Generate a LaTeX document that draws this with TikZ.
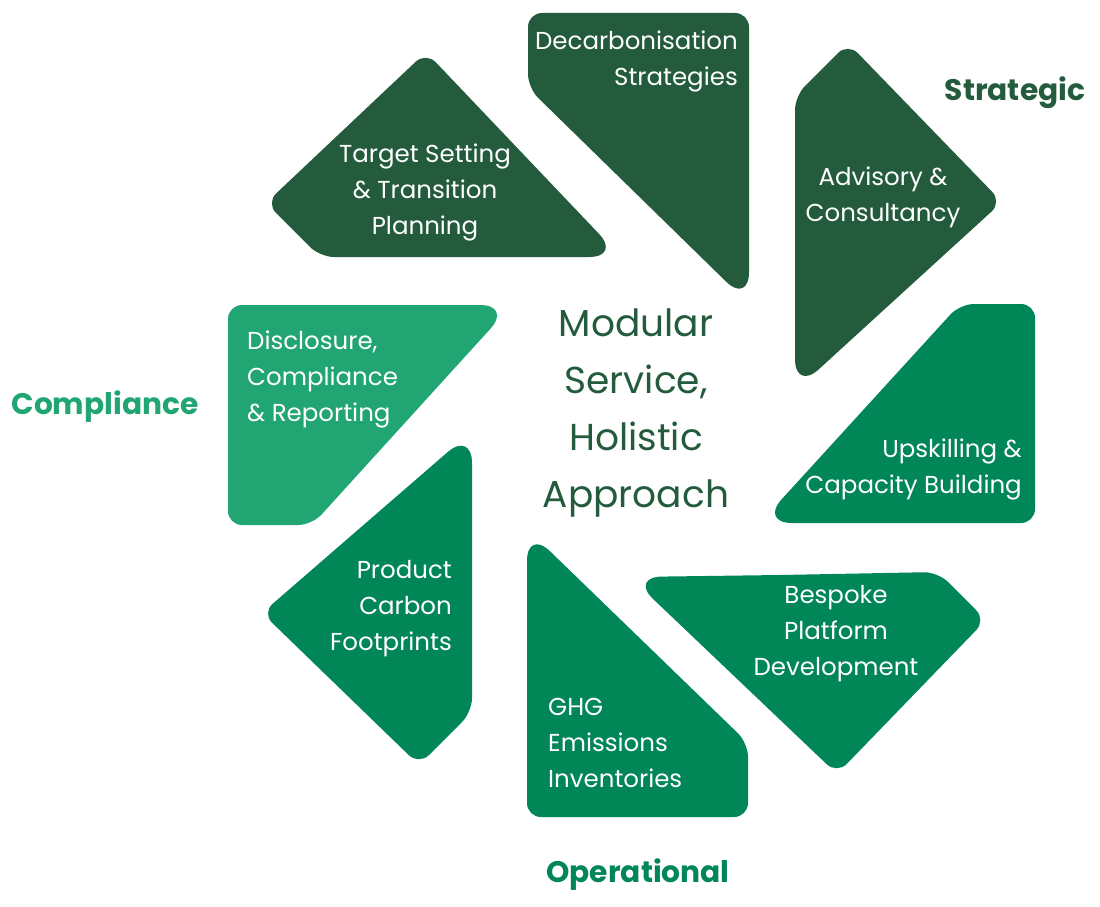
\documentclass[tikz,border=0pt]{standalone}
\usepackage{fontspec}
\setmainfont{Poppins}
\definecolor{darkgreen}{HTML}{235B3C}
\definecolor{midgreen}{HTML}{008657}
\definecolor{lightgreen}{HTML}{21A673}
\newcommand{\piecefont}{\fontsize{24.5}{36}\selectfont}
\tikzset{
    soft/.style={rounded corners=14pt},
    tip/.style={rounded corners=32pt},
    piecetext/.style={text=white, font=\piecefont, inner sep=0pt},
    grouplabel/.style={font=\fontsize{29.7}{32}\selectfont\bfseries, inner sep=0pt}
}
\begin{document}
\begin{tikzpicture}[x=1pt, y=-1pt]
            \useasboundingbox (0,0) rectangle (1100,907);

            % strategic pieces
            \fill[darkgreen] (470,257) [soft] -- (320,257) -- (266,203) -- (426,52) [tip] -- (621,257) [soft] -- cycle;
            \fill[darkgreen] (638,13) [soft] -- (749,13) [tip] -- (749,304) [soft] -- (528,88) -- (528,13) -- cycle;
            \fill[darkgreen] (795,240) [soft] -- (795,96) -- (848,43) -- (1002,202) [tip] -- (795,391) [soft] -- cycle;

            % operational pieces
            \fill[midgreen] (900,523) [tip] -- (760,523) [soft] -- (960,304) -- (1035,304) -- (1035,523) -- cycle;
            \fill[midgreen] (780,575) [soft] -- (938,572) -- (986,620) -- (837,774) [tip] -- (630,577) [soft] -- cycle;
            \fill[midgreen] (527,670) [tip] -- (527,529) [soft] -- (748,743) -- (748,817) -- (527,817) -- cycle;
            \fill[midgreen] (472,570) [soft] -- (472,712) -- (419,765) -- (262,613) [tip] -- (472,431) [soft] -- cycle;

            % compliance piece
            \fill[lightgreen] (370,305) [tip] -- (512,305) [soft] -- (312,525) -- (228,525) -- (228,305) -- cycle;

            \node[piecetext, align=center] (target) at (425,192) {Target Setting\\\& Transition\\Planning};
            \node[piecetext, align=right, anchor=east] (decarb) at (738,61) {Decarbonisation\\Strategies};
            \node[piecetext, align=center] (advisory) at (883,197) {Advisory \&\\Consultancy};
            \node[piecetext, align=right, anchor=east] (upskill) at (1022,469) {Upskilling \&\\Capacity Building};
            \node[piecetext, align=center] (bespoke) at (836,634) {Bespoke\\Platform\\Development};
            \node[piecetext, align=left, anchor=west] (ghg) at (548,743) {GHG\\Emissions\\Inventories};
            \node[piecetext, align=right, anchor=east] (footprint) at (452,609) {Product\\Carbon\\Footprints};
            \node[piecetext, align=left, anchor=west] (disclosure) at (247,379) {Disclosure,\\Compliance\\\& Reporting};

            \node[text=darkgreen, font=\fontsize{37.5}{57}\selectfont, align=center, inner sep=0pt] (hub) at (636,413) {Modular\\Service,\\Holistic\\Approach};

            \node[grouplabel, text=darkgreen] (strategic) at (1015,93) {Strategic};
            \node[grouplabel, text=lightgreen] (compliance) at (105,407) {Compliance};
            \node[grouplabel, text=midgreen] (operational) at (638,875) {Operational};
\end{tikzpicture}
\end{document}
